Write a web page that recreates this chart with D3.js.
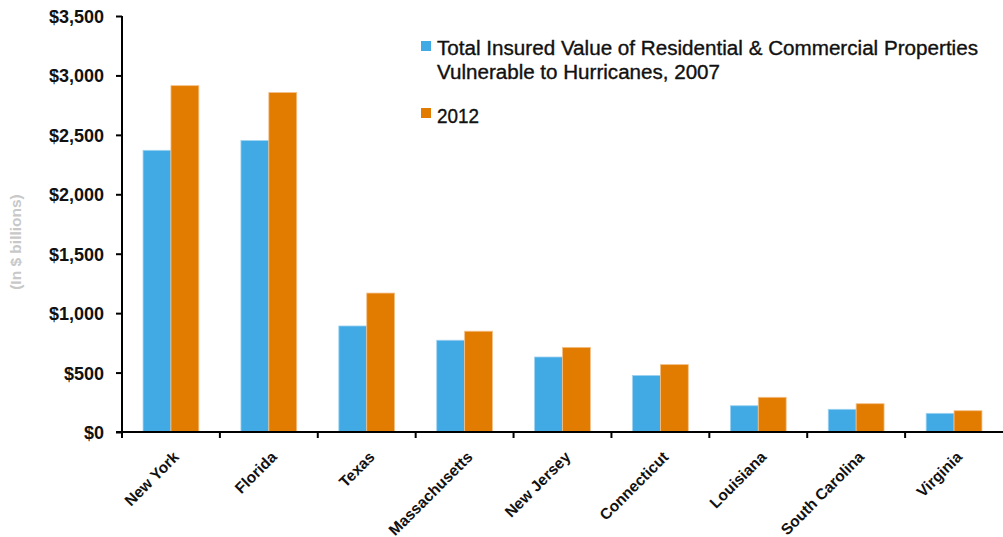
<!DOCTYPE html>
<html>
<head>
<meta charset="utf-8">
<script src="https://cdn.jsdelivr.net/npm/d3@7"></script>
<style>
html,body{margin:0;padding:0;background:#fff;}
svg{display:block;}
</style>
</head>
<body>
<svg id="chart" width="1003" height="537"></svg>
<script>
const categories = ["New York","Florida","Texas","Massachusetts","New Jersey","Connecticut","Louisiana","South Carolina","Virginia"];
const values2007 = [2370, 2452, 892, 772, 631, 476, 221, 191, 157];
const values2012 = [2914, 2856, 1169, 848, 712, 567, 292, 238, 179];
const seriesNames = ["Total Insured Value of Residential & Commercial Properties|Vulnerable to Hurricanes, 2007", "2012"];
const yTicks = [0, 500, 1000, 1500, 2000, 2500, 3000, 3500];
const yLabel = "(In $ billions)";

(function(){
const colors = ["#41a9e4", "#e27c00"];
const strokes = ["#9fd3f0", "#f3c08a"];

const svg = d3.select("#chart");
const mLeft = 122, mRight = 1003, mTop = 16, mBottom = 432;

const x = d3.scaleBand().domain(categories).range([mLeft, mRight]).paddingInner(0.43).paddingOuter(0.215);
const xFull = d3.scaleBand().domain(categories).range([mLeft, mRight]);
const x1 = d3.scaleBand().domain([0,1]).range([0, x.bandwidth()]);
const y = d3.scaleLinear().domain([0, 3500]).range([mBottom, mTop]);

const series = [values2007, values2012];
series.forEach((vals, si) => {
  svg.append("g").selectAll("rect").data(categories).join("rect")
    .attr("x", d => x(d) + x1(si))
    .attr("y", (d,i) => y(vals[i]))
    .attr("width", x1.bandwidth())
    .attr("height", (d,i) => y(0) - y(vals[i]))
    .attr("fill", colors[si])
    .attr("stroke", strokes[si])
    .attr("stroke-width", 0.8);
});

const yAxis = svg.append("g").attr("transform", `translate(${mLeft},0)`)
  .call(d3.axisLeft(y).tickValues(yTicks).tickSize(6).tickPadding(12)
    .tickFormat(d => "$" + d3.format(",")(d)));
yAxis.select(".domain").attr("stroke", "#000").attr("stroke-width", 2).attr("d", `M0,${mTop}V${mBottom}`);
yAxis.selectAll(".tick line").attr("stroke", "#000").attr("stroke-width", 2);
yAxis.selectAll(".tick text").attr("font-family", "Liberation Sans, Arial, sans-serif")
  .attr("font-size", 18).attr("font-weight", "bold").attr("fill", "#111").attr("dy", "0.36em");

const xAxisG = svg.append("g").attr("transform", `translate(0,${mBottom})`);
xAxisG.append("line").attr("x1", mLeft - 6).attr("x2", mRight).attr("y1", 0).attr("y2", 0)
  .attr("stroke", "#000").attr("stroke-width", 2);
xAxisG.selectAll("line.tk").data(categories).join("line").attr("class","tk")
  .attr("x1", d => xFull(d)).attr("x2", d => xFull(d)).attr("y1", 0).attr("y2", 6)
  .attr("stroke", "#000").attr("stroke-width", 2);
xAxisG.selectAll("text").data(categories).join("text")
  .attr("transform", d => `translate(${x(d) + x.bandwidth()/2 + 9},${26}) rotate(-45)`)
  .attr("text-anchor", "end")
  .attr("font-family", "Liberation Sans, Arial, sans-serif")
  .attr("font-size", 15.5).attr("font-weight", "bold").attr("fill", "#111")
  .text(d => d);

svg.append("text")
  .attr("transform", `translate(21,242) rotate(-90)`)
  .attr("text-anchor", "middle")
  .attr("font-family", "Liberation Sans, Arial, sans-serif")
  .attr("font-size", 15.5).attr("font-weight", "bold").attr("fill", "#c8c8c8")
  .text(yLabel);

const lg = svg.append("g");
lg.append("rect").attr("x", 421).attr("y", 41).attr("width", 10).attr("height", 10).attr("fill", colors[0]);
lg.append("rect").attr("x", 421).attr("y", 108).attr("width", 10).attr("height", 10).attr("fill", colors[1]);
const lines = seriesNames[0].split("|");
const lens = [541, 283];
lines.forEach((t, i) => {
  lg.append("text").attr("x", 437).attr("y", 55 + i*24)
    .attr("font-family", "Liberation Sans, Arial, sans-serif")
    .attr("font-size", 19.5).attr("fill", "#111")
    .attr("stroke", "#111").attr("stroke-width", 0.35)
    .attr("textLength", lens[i]).attr("lengthAdjust", "spacingAndGlyphs")
    .text(t);
});
lg.append("text").attr("x", 437).attr("y", 123)
  .attr("font-family", "Liberation Sans, Arial, sans-serif")
  .attr("font-size", 20).attr("fill", "#111")
  .attr("stroke", "#111").attr("stroke-width", 0.35)
  .attr("textLength", 42).attr("lengthAdjust", "spacingAndGlyphs")
  .text(seriesNames[1]);
})();
</script>
</body>
</html>
